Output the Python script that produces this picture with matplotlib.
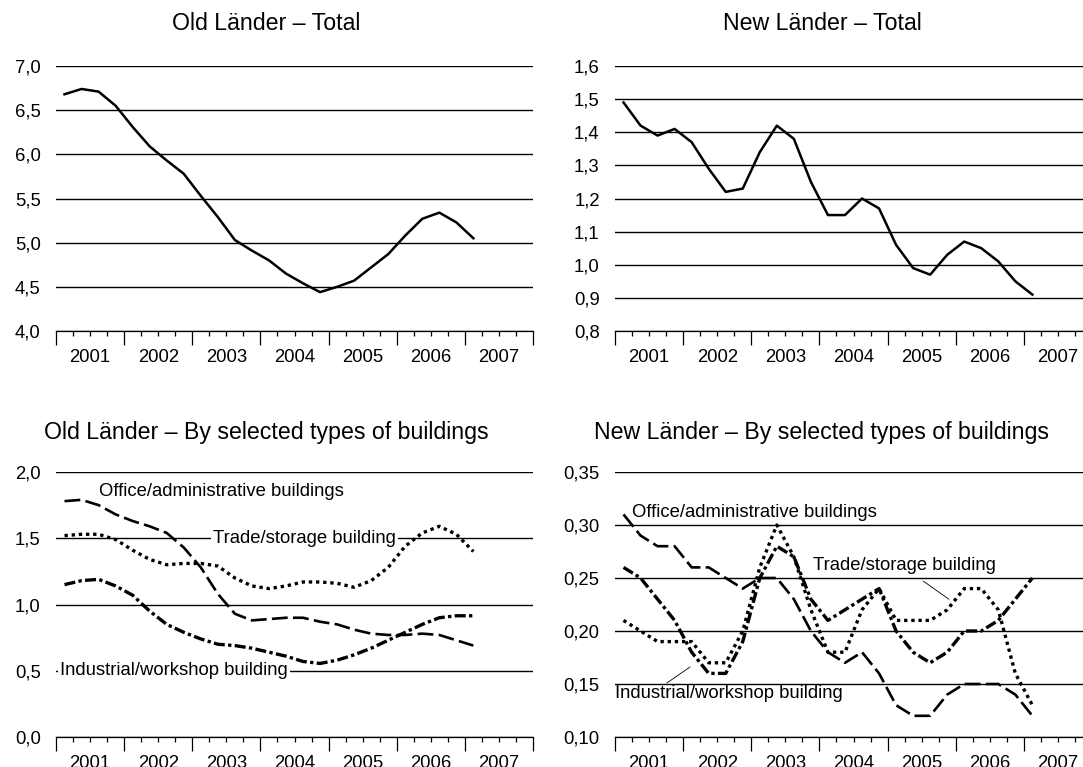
import numpy as np
import matplotlib
matplotlib.use("Agg")
import matplotlib.pyplot as plt
from matplotlib.ticker import FixedLocator, FuncFormatter

plt.rcParams["font.family"] = ["Liberation Sans", "DejaVu Sans"]

# quarterly values, Q1 2001 .. Q1 2007
old_total = [6.68, 6.74, 6.71, 6.55, 6.31, 6.09, 5.93, 5.78, 5.53, 5.29, 5.03, 4.91, 4.80,
             4.65, 4.54, 4.44, 4.50, 4.57, 4.72, 4.87, 5.08, 5.27, 5.34, 5.23, 5.05]
new_total = [1.49, 1.42, 1.39, 1.41, 1.37, 1.29, 1.22, 1.23, 1.34, 1.42, 1.38, 1.25, 1.15,
             1.15, 1.20, 1.17, 1.06, 0.99, 0.97, 1.03, 1.07, 1.05, 1.01, 0.95, 0.91]

old_office = [1.78, 1.79, 1.75, 1.68, 1.63, 1.59, 1.54, 1.43, 1.28, 1.08, 0.93, 0.88, 0.89,
              0.90, 0.90, 0.87, 0.85, 0.81, 0.78, 0.77, 0.77, 0.78, 0.77, 0.73, 0.69]
old_trade = [1.52, 1.53, 1.53, 1.49, 1.41, 1.34, 1.30, 1.31, 1.31, 1.29, 1.20, 1.14, 1.12,
             1.14, 1.17, 1.17, 1.16, 1.13, 1.18, 1.28, 1.44, 1.54, 1.59, 1.53, 1.40]
old_industrial = [1.15, 1.18, 1.19, 1.14, 1.07, 0.95, 0.85, 0.79, 0.74, 0.70, 0.69, 0.67, 0.64,
                  0.61, 0.57, 0.555, 0.58, 0.62, 0.67, 0.73, 0.79, 0.85, 0.90, 0.915, 0.915]

new_office = [0.31, 0.29, 0.28, 0.28, 0.26, 0.26, 0.25, 0.24, 0.25, 0.25, 0.23, 0.20, 0.18,
              0.17, 0.18, 0.16, 0.13, 0.12, 0.12, 0.14, 0.15, 0.15, 0.15, 0.14, 0.12]
new_trade = [0.21, 0.20, 0.19, 0.19, 0.19, 0.17, 0.17, 0.20, 0.26, 0.30, 0.27, 0.22, 0.18,
             0.18, 0.22, 0.24, 0.21, 0.21, 0.21, 0.22, 0.24, 0.24, 0.22, 0.16, 0.13]
new_industrial = [0.26, 0.25, 0.23, 0.21, 0.18, 0.16, 0.16, 0.19, 0.25, 0.28, 0.27, 0.23, 0.21,
                  0.22, 0.23, 0.24, 0.20, 0.18, 0.17, 0.18, 0.20, 0.20, 0.21, 0.23, 0.25]

years = [2001, 2002, 2003, 2004, 2005, 2006, 2007]

TICK_FS = 13.3
TITLE_FS = 16.7

fig = plt.figure(figsize=(10.83, 7.67), dpi=100)

W, H = 1083, 767
def make_ax(left_px, bottom_px):
    return fig.add_axes([left_px / W, 1 - bottom_px / H, 477 / W, 265 / H])

ax_tl = make_ax(56, 331)
ax_tr = make_ax(615, 331)
ax_bl = make_ax(56, 737)
ax_br = make_ax(615, 737)

xq = np.arange(len(old_total)) + 0.5


def style(ax, yticks, fmt):
    ax.set_xlim(0, 28)
    ax.set_ylim(yticks[0], yticks[-1])
    ax.set_yticks(yticks)
    ax.yaxis.set_major_formatter(FuncFormatter(lambda v, _: fmt.format(v).replace(".", ",")))
    ax.tick_params(axis="y", length=0, pad=11, labelsize=TICK_FS)
    for s in ("left", "right", "top"):
        ax.spines[s].set_visible(False)
    ax.spines["bottom"].set_linewidth(0.9)
    ax.set_axisbelow(True)
    ax.grid(axis="y", color="black", linewidth=1.0)
    # year boundaries (long ticks) and quarter boundaries (short ticks)
    ax.xaxis.set_major_locator(FixedLocator(range(0, 29, 4)))
    ax.xaxis.set_major_formatter(FuncFormatter(lambda v, _: ""))
    ax.xaxis.set_minor_locator(FixedLocator([q for q in range(1, 28) if q % 4]))
    ax.xaxis.set_minor_formatter(FuncFormatter(
        lambda v, _: str(years[int(v) // 4]) if int(round(v)) % 4 == 2 else ""))
    ax.tick_params(axis="x", which="major", length=10, width=0.9, direction="out")
    ax.tick_params(axis="x", which="minor", length=3.5, width=0.9, direction="out",
                   pad=9.5, labelsize=TICK_FS)


style(ax_tl, [4.0, 4.5, 5.0, 5.5, 6.0, 6.5, 7.0], "{:.1f}")
style(ax_tr, [0.8, 0.9, 1.0, 1.1, 1.2, 1.3, 1.4, 1.5, 1.6], "{:.1f}")
style(ax_bl, [0.0, 0.5, 1.0, 1.5, 2.0], "{:.1f}")
style(ax_br, [0.10, 0.15, 0.20, 0.25, 0.30, 0.35], "{:.2f}")

ax_tl.plot(xq, old_total, color="black", lw=1.8, zorder=3)
ax_tr.plot(xq, new_total, color="black", lw=1.8, zorder=3)

office_kw = dict(color="black", lw=1.9, dashes=(6, 2), zorder=3)
trade_kw = dict(color="black", lw=2.4, dashes=(1, 1.15), zorder=3)
ind_kw = dict(color="black", lw=2.4, dashes=(3.3, 1, 1, 1), zorder=3)

ax_bl.plot(xq, old_office, **office_kw)
ax_bl.plot(xq, old_trade, **trade_kw)
ax_bl.plot(xq, old_industrial, **ind_kw)

ax_br.plot(xq, new_office, **office_kw)
ax_br.plot(xq, new_trade, **trade_kw)
ax_br.plot(xq, new_industrial, **ind_kw)

box = dict(facecolor="white", edgecolor="none", pad=1.5)
ax_bl.text(2.5, 1.85, "Office/administrative buildings", fontsize=TICK_FS, va="center",
           ha="left", zorder=2)
ax_bl.text(9.2, 1.5, "Trade/storage building", fontsize=TICK_FS, va="center", ha="left",
           bbox=box, zorder=2)
ax_bl.text(0.25, 0.5, "Industrial/workshop building", fontsize=TICK_FS, va="center", ha="left",
           bbox=box, zorder=2)

ax_br.text(1.0, 0.312, "Office/administrative buildings", fontsize=TICK_FS, va="center",
           ha="left", zorder=2)
ax_br.text(11.6, 0.262, "Trade/storage building", fontsize=TICK_FS, va="center", ha="left",
           zorder=2)
ax_br.plot([18.1, 19.6], [0.247, 0.230], color="black", lw=0.6, zorder=2)
ax_br.text(0.0, 0.141, "Industrial/workshop building", fontsize=TICK_FS, va="center",
           ha="left", zorder=2)
ax_br.plot([3.05, 4.4], [0.151, 0.166], color="black", lw=0.6, zorder=2)

fig.text(266 / W, 1 - 23 / H, "Old Länder – Total", fontsize=TITLE_FS, ha="center", va="center")
fig.text(822 / W, 1 - 23 / H, "New Länder – Total", fontsize=TITLE_FS, ha="center", va="center")
fig.text(266 / W, 1 - 432 / H, "Old Länder – By selected types of buildings",
         fontsize=TITLE_FS, ha="center", va="center")
fig.text(822 / W, 1 - 432 / H, "New Länder – By selected types of buildings",
         fontsize=TITLE_FS, ha="center", va="center")

fig.savefig("out.png", dpi=100)
